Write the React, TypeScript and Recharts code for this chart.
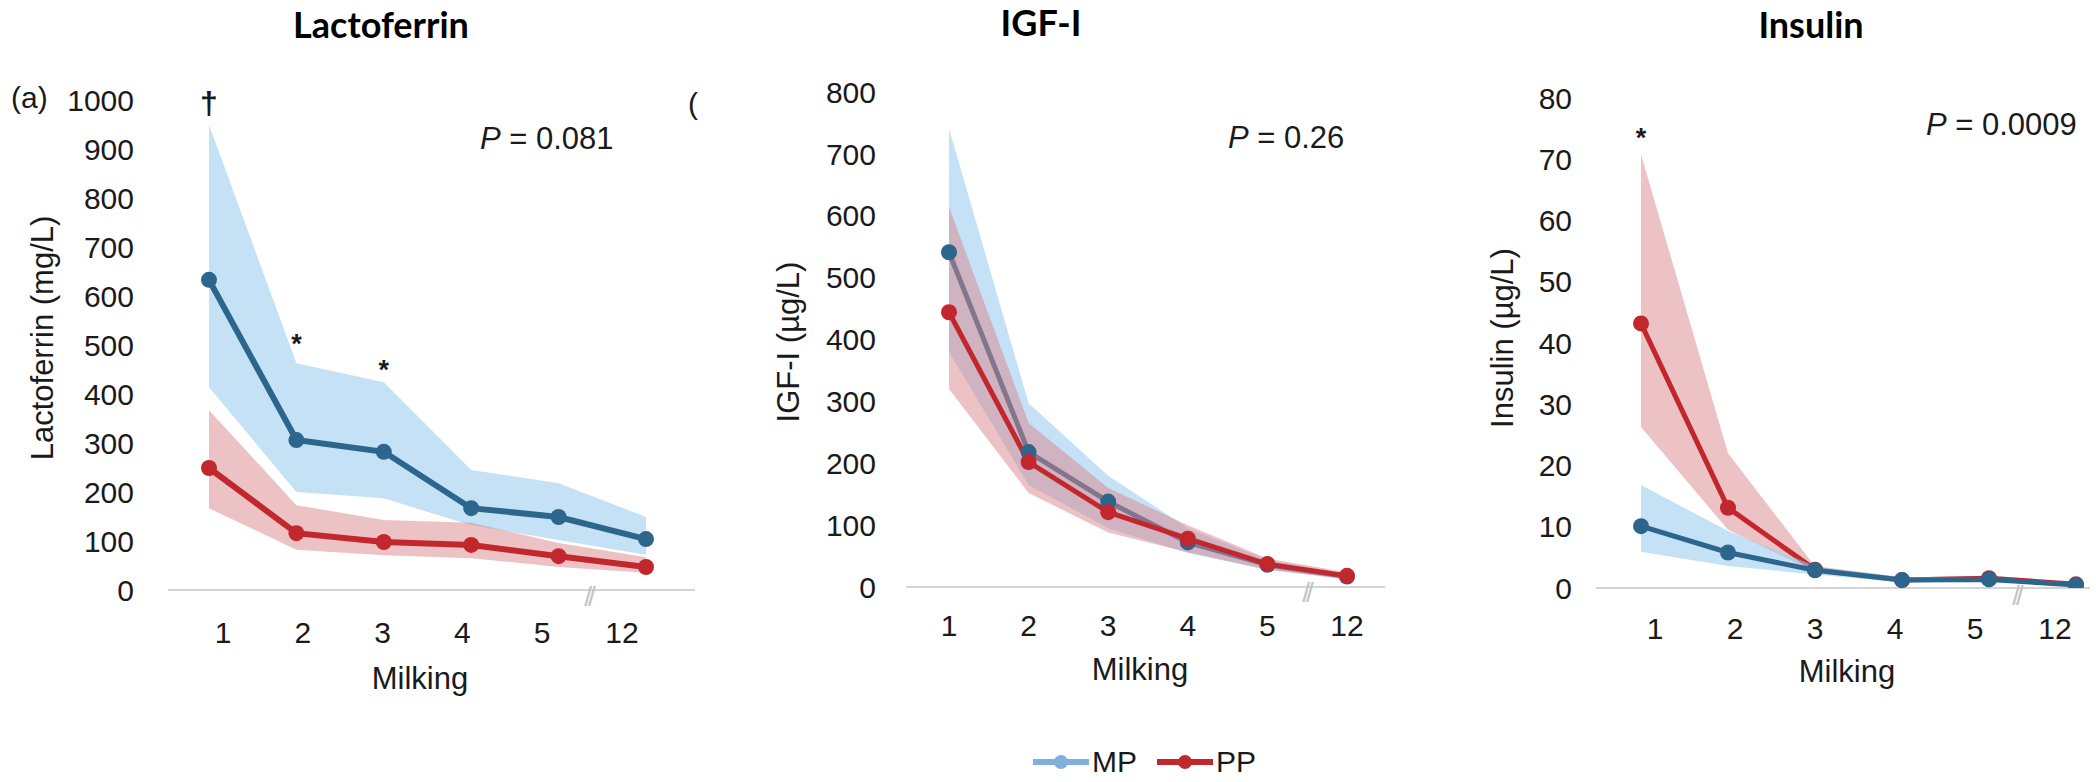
import React from 'react';
import { ComposedChart, Line, Area, XAxis, YAxis, ReferenceDot } from 'recharts';

const milkings = ['1', '2', '3', '4', '5', '12'];

// Lactoferrin (mg/L)
const lfMP = [633, 306, 282, 167, 149, 104];
const lfMPLow = [414, 200, 187, 132, 102, 72];
const lfMPHigh = [949, 463, 424, 245, 218, 149];
const lfPP = [249, 116, 98, 92, 69, 47];
const lfPPLow = [167, 82, 71, 65, 47, 35];
const lfPPHigh = [367, 173, 143, 137, 96, 67];
const lfTicks = [0, 100, 200, 300, 400, 500, 600, 700, 800, 900, 1000];

// IGF-I (ug/L)
const igfMP = [541, 218, 138, 72, 36, 17];
const igfMPLow = [380, 165, 95, 55, 28, 13];
const igfMPHigh = [741, 297, 180, 95, 44, 21];
const igfPP = [444, 202, 121, 78, 37, 18];
const igfPPLow = [320, 152, 88, 56, 28, 12];
const igfPPHigh = [614, 265, 160, 100, 46, 24];
const igfTicks = [0, 100, 200, 300, 400, 500, 600, 700, 800];

// Insulin (ug/L)
const insMP = [10.1, 5.8, 2.9, 1.3, 1.4, 0.5];
const insMPLow = [5.9, 3.6, 2.2, 0.9, 1.0, 0.3];
const insMPHigh = [16.8, 9.3, 3.6, 1.8, 1.8, 0.8];
const insPP = [43.2, 13.1, 3.0, 1.3, 1.6, 0.6];
const insPPLow = [26.3, 9.5, 2.6, 1.0, 1.2, 0.4];
const insPPHigh = [70.8, 22.0, 3.5, 1.7, 2.0, 0.9];
const insTicks = [0, 10, 20, 30, 40, 50, 60, 70, 80];

// significance marks
const lfMarks = [
  { milking: '1', value: 995, text: '\u2020', size: 32 },
  { milking: '2', value: 504, text: '*', size: 27 },
  { milking: '3', value: 451, text: '*', size: 27 },
];
const insMarks = [{ milking: '1', value: 73.5, text: '*', size: 27 }];

const BLUE = '#2c668c';
const RED = '#c1272d';
const BLUE_BAND = '#9fcdee';
const RED_BAND = '#d9868c';
const FONT = '"Liberation Sans", Arial, sans-serif';
const INK = '#1a1a1a';

function MilkingTick(props: any) {
  const { x, y, payload, index, shift0, shiftStep, offset } = props;
  return (
    <text x={x + shift0 + index * shiftStep} y={y + offset} textAnchor="middle" dominantBaseline="central"
      fontSize={30} fontFamily={FONT} fill={INK}>
      {payload.value}
    </text>
  );
}

function Panel(p: any) {
  const rows = milkings.map((m, i) => ({
    milking: m,
    mp: p.mp[i],
    mpBand: [p.mpLow[i], p.mpHigh[i]],
    pp: p.pp[i],
    ppBand: [p.ppLow[i], p.ppHigh[i]],
  }));
  const H = 700;
  const mpLayers = (z: number) => [
    <Area key="mpBand" dataKey="mpBand" type="linear" stroke="none" fill={BLUE_BAND} fillOpacity={0.6}
      isAnimationActive={false} activeDot={false} zIndex={z} />,
    <Line key="mp" dataKey="mp" type="linear" stroke={BLUE} strokeWidth={p.lw} dot={{ r: 8, fill: BLUE, stroke: 'none' }}
      activeDot={false} isAnimationActive={false} zIndex={z + 1} />,
  ];
  const ppLayers = (z: number) => [
    <Area key="ppBand" dataKey="ppBand" type="linear" stroke="none" fill={RED_BAND} fillOpacity={0.5}
      isAnimationActive={false} activeDot={false} zIndex={z} />,
    <Line key="pp" dataKey="pp" type="linear" stroke={RED} strokeWidth={p.lw} dot={{ r: 8, fill: RED, stroke: 'none' }}
      activeDot={false} isAnimationActive={false} zIndex={z + 1} />,
  ];
  const layers = p.ppOnTop ? [...mpLayers(100), ...ppLayers(102)] : [...ppLayers(100), ...mpLayers(102)];

  return (
    <div style={{ position: 'absolute', left: p.left, top: 0 }}>
      <ComposedChart width={p.width} height={H} data={rows}
        margin={{ top: p.top, right: p.right, bottom: H - p.bottom - 60, left: 0 }}>
        <XAxis dataKey="milking" height={60} interval={0} padding={{ left: p.padLeft, right: p.padRight }}
          axisLine={{ stroke: '#d4d4d4', strokeWidth: 2 }} tickLine={false} tickSize={0} tickMargin={0}
          tick={(t: any) => <MilkingTick {...t} shift0={p.shift0} shiftStep={p.shiftStep} offset={p.xTickOffset} />} />
        <YAxis width={p.yWidth} domain={[0, p.max]} ticks={p.ticks} interval={0} allowDataOverflow
          axisLine={false} tickLine={false} tickSize={0} tickMargin={p.yTickMargin}
          tick={{ fontSize: 30, fill: INK, fontFamily: FONT }} />
        {layers}
        {p.marks.map((m: any, i: number) => (
          <ReferenceDot key={i} x={m.milking} y={m.value} r={0} ifOverflow="visible"
            label={{ value: m.text, position: 'center', fontSize: m.size, fill: INK, fontFamily: FONT, fontWeight: 700 }} />
        ))}
      </ComposedChart>
    </div>
  );
}

function Txt({ x, y, children, anchor = 'center', rotate = false, style = {} }: any) {
  const tx = anchor === 'center' ? '-50%' : '0';
  return (
    <div style={{
      position: 'absolute', left: x, top: y, whiteSpace: 'nowrap', lineHeight: 1,
      transform: `translate(${tx}, -50%)${rotate ? ' rotate(-90deg)' : ''}`,
      fontFamily: FONT, fontSize: 31, color: INK, ...style,
    }}>
      {children}
    </div>
  );
}

function LegendKey({ color, label }: any) {
  return (
    <div style={{ display: 'flex', alignItems: 'center', marginRight: 20 }}>
      <svg width={56} height={20}>
        <line x1={0} y1={10} x2={56} y2={10} stroke={color} strokeWidth={6} />
        <circle cx={28} cy={10} r={7} fill={color} />
      </svg>
      <span style={{ fontFamily: FONT, fontSize: 30, lineHeight: 1, color: INK, marginLeft: 3 }}>{label}</span>
    </div>
  );
}

const titleStyle = { fontFamily: 'Lato, sans-serif', fontWeight: 700, fontSize: 36, color: '#000' };
const breakStyle = { fontSize: 28, color: '#c4c4c4', letterSpacing: -4 };

export default function App() {
  return (
    <div style={{ position: 'absolute', left: 0, top: 0, width: 2096, height: 782, background: '#fff', overflow: 'hidden' }}>
      <Panel left={0} width={720} top={100} bottom={590} right={25} yWidth={168} padLeft={41} padRight={49}
        max={1000} ticks={lfTicks} mp={lfMP} mpLow={lfMPLow} mpHigh={lfMPHigh} pp={lfPP} ppLow={lfPPLow} ppHigh={lfPPHigh}
        marks={lfMarks} ppOnTop lw={6} yTickMargin={34} xTickOffset={42} shift0={14} shiftStep={-7.6} />
      <Panel left={700} width={700} top={92} bottom={587} right={15} yWidth={206} padLeft={43} padRight={38}
        max={800} ticks={igfTicks} mp={igfMP} mpLow={igfMPLow} mpHigh={igfMPHigh} pp={igfPP} ppLow={igfPPLow} ppHigh={igfPPHigh}
        marks={[]} ppOnTop lw={5} yTickMargin={30} xTickOffset={38} shift0={0} shiftStep={0} />
      <Panel left={1400} width={696} top={98} bottom={588} right={6} yWidth={196} padLeft={45} padRight={14}
        max={80} ticks={insTicks} mp={insMP} mpLow={insMPLow} mpHigh={insMPHigh} pp={insPP} ppLow={insPPLow} ppHigh={insPPHigh}
        marks={insMarks} ppOnTop={false} lw={5} yTickMargin={24} xTickOffset={40} shift0={14} shiftStep={-7} />

      <Txt x={381} y={24} style={titleStyle}>Lactoferrin</Txt>
      <Txt x={1041} y={22} style={titleStyle}>IGF-I</Txt>
      <Txt x={1811} y={24} style={titleStyle}>Insulin</Txt>

      <Txt x={11} y={98} anchor="left" style={{ fontSize: 30 }}>(a)</Txt>
      <Txt x={688} y={104} anchor="left" style={{ fontSize: 30 }}>(</Txt>

      <Txt x={42} y={338} rotate>Lactoferrin (mg/L)</Txt>
      <Txt x={788} y={342} rotate>IGF-I (µg/L)</Txt>
      <Txt x={1502} y={338} rotate>Insulin (µg/L)</Txt>

      <Txt x={420} y={678}>Milking</Txt>
      <Txt x={1140} y={669}>Milking</Txt>
      <Txt x={1847} y={671}>Milking</Txt>

      <Txt x={480} y={138} anchor="left"><i>P</i> = 0.081</Txt>
      <Txt x={1228} y={137} anchor="left"><i>P</i> = 0.26</Txt>
      <Txt x={1926} y={124} anchor="left"><i>P</i> = 0.0009</Txt>

      <Txt x={588} y={597} style={breakStyle}>//</Txt>
      <Txt x={1306} y={593} style={breakStyle}>//</Txt>
      <Txt x={2016} y={596} style={breakStyle}>//</Txt>

      <div style={{ position: 'absolute', left: 1033, top: 762, transform: 'translateY(-50%)', display: 'flex', alignItems: 'center' }}>
        <LegendKey color="#7fb0da" label="MP" />
        <LegendKey color={RED} label="PP" />
      </div>
    </div>
  );
}
